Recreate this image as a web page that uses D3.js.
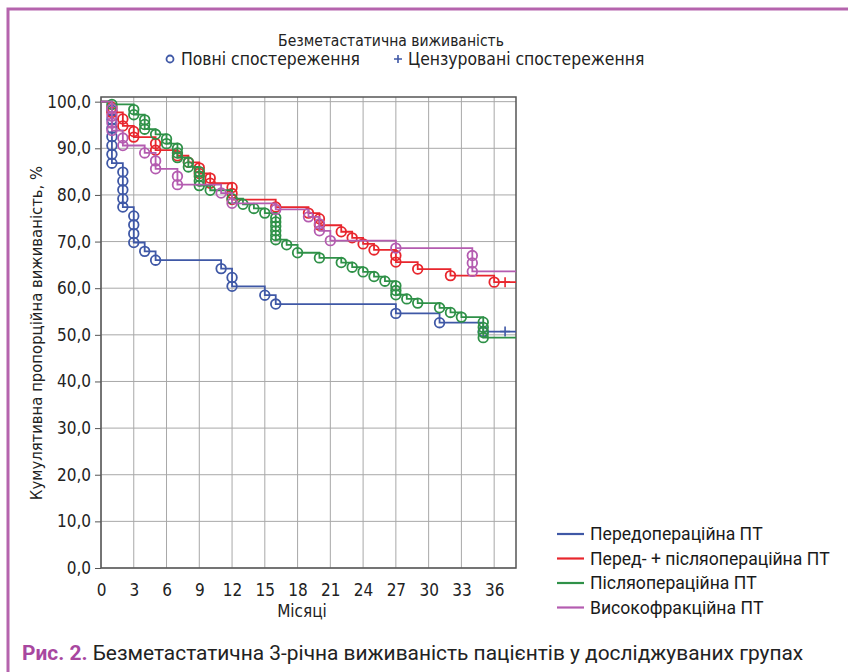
<!DOCTYPE html>
<html>
<head>
<meta charset="utf-8">
<script src="https://cdn.jsdelivr.net/npm/d3@7"></script>
<style>
  body { margin: 0; background: #fff; }
  svg { display: block; }
  .cond { font-family: 'DejaVu Sans Condensed', 'Liberation Sans Narrow', Roboto, sans-serif; }
  .rob { font-family: Roboto, 'Noto Sans', sans-serif; }
</style>
</head>
<body>
<div id="chart"></div>
<script>
// tick labels
const monthTicks = [0, 3, 6, 9, 12, 15, 18, 21, 24, 27, 30, 33, 36];
const survTicks = [0, 10, 20, 30, 40, 50, 60, 70, 80, 90, 100];

// groups
const groups = ['Передопераційна ПТ', 'Перед- + післяопераційна ПТ', 'Післяопераційна ПТ', 'Високофракційна ПТ'];
const colors = ['#3f58a6', '#e8262d', '#2f9148', '#b45cb0'];

// events: month and survival after each event (%)
const preopTime = [1, 1, 1, 1, 1, 1, 1, 2, 2, 2, 2, 2, 3, 3, 3, 3, 4, 5, 11, 12, 12, 15, 16, 27, 31, 35];
const preopSurv = [98.1, 96.2, 94.3, 92.5, 90.6, 88.7, 86.8, 84.9, 83.0, 81.1, 79.2, 77.4, 75.5, 73.6, 71.7, 69.8, 67.9, 66.0, 64.2, 62.3, 60.4, 58.5, 56.6, 54.6, 52.6, 50.7];
const preopCens = [37];

const combTime = [1, 1, 2, 2, 3, 3, 5, 5, 7, 8, 9, 9, 10, 10, 12, 12, 12, 16, 19, 20, 20, 22, 23, 24, 25, 27, 27, 29, 32, 36];
const combSurv = [98.8, 97.7, 96.3, 94.8, 93.6, 92.4, 91.0, 89.6, 88.4, 87.0, 85.8, 84.6, 83.6, 82.5, 81.6, 80.3, 79.0, 77.4, 76.1, 74.9, 73.5, 72.1, 70.8, 69.5, 68.2, 67.0, 65.6, 64.1, 62.7, 61.3];
const combCens = [37];

const postopTime = [1, 3, 3, 4, 4, 4, 5, 6, 6, 7, 7, 7, 8, 8, 9, 9, 9, 9, 10, 12, 13, 14, 15, 16, 16, 16, 16, 16, 16, 17, 18, 20, 22, 23, 24, 25, 26, 27, 27, 27, 28, 29, 31, 32, 33, 35, 35, 35, 35];
const postopSurv = [99.4, 98.3, 97.2, 96.1, 95.1, 94.1, 93.0, 92.0, 91.0, 90.0, 89.0, 88.0, 87.0, 86.0, 85.0, 84.0, 83.0, 82.0, 81.0, 79.2, 78.0, 77.1, 76.1, 75.1, 74.2, 73.3, 72.3, 71.3, 70.4, 69.3, 67.6, 66.5, 65.5, 64.5, 63.5, 62.5, 61.5, 60.5, 59.5, 58.6, 57.7, 56.8, 55.8, 54.8, 53.8, 52.7, 51.6, 50.5, 49.4];
const postopCens = [];

const hypoTime = [1, 1, 1, 1, 2, 2, 4, 5, 5, 7, 7, 11, 12, 16, 19, 20, 20, 21, 27, 34, 34, 34];
const hypoSurv = [98.5, 96.9, 95.4, 93.8, 92.2, 90.6, 89.0, 87.3, 85.6, 84.0, 82.2, 80.4, 78.2, 76.9, 75.3, 73.8, 72.3, 70.2, 68.6, 67.0, 65.4, 63.6];
const hypoCens = [];

const series = [
  { t: preopTime, s: preopSurv, c: preopCens },
  { t: combTime, s: combSurv, c: combCens },
  { t: postopTime, s: postopSurv, c: postopCens },
  { t: hypoTime, s: hypoSurv, c: hypoCens }
];

const W = 848, H = 672;
const plot = { left: 101, right: 516, top: 97, bottom: 568 };

const svg = d3.select('#chart').append('svg')
  .attr('width', W)
  .attr('height', H);

// magazine frame
svg.append('path')
  .attr('d', `M8,${H} L8,9 L${W},9`)
  .attr('fill', 'none')
  .attr('stroke', '#b564ad')
  .attr('stroke-width', 3);

const x = d3.scaleLinear().domain([0, 38]).range([plot.left, plot.right]);
const y = d3.scaleLinear().domain([0, 101]).range([plot.bottom, plot.top]);

// grid
svg.append('g')
  .selectAll('line')
  .data(monthTicks)
  .enter().append('line')
  .attr('x1', d => x(d)).attr('x2', d => x(d))
  .attr('y1', plot.top).attr('y2', plot.bottom)
  .attr('stroke', '#a8a8a8').attr('stroke-width', 1);

svg.append('g')
  .selectAll('line')
  .data(survTicks)
  .enter().append('line')
  .attr('x1', plot.left).attr('x2', plot.right)
  .attr('y1', d => y(d)).attr('y2', d => y(d))
  .attr('stroke', '#a8a8a8').attr('stroke-width', 1);

// axes
const fmt = d => d.toFixed(1).replace('.', ',');
const yAxis = svg.append('g')
  .attr('transform', `translate(${plot.left},0)`)
  .call(d3.axisLeft(y).tickValues(survTicks).tickFormat(fmt).tickSize(6).tickPadding(4));
yAxis.select('.domain').remove();

const xAxis = svg.append('g')
  .attr('transform', `translate(0,${plot.bottom})`)
  .call(d3.axisBottom(x).tickValues(monthTicks).tickFormat(d => d).tickSize(0).tickPadding(16));
xAxis.select('.domain').remove();

svg.selectAll('.tick text')
  .attr('class', 'cond')
  .attr('font-size', 17)
  .attr('fill', '#222');
svg.selectAll('.tick line').attr('stroke', '#555');

svg.append('rect')
  .attr('x', plot.left).attr('y', plot.top)
  .attr('width', plot.right - plot.left).attr('height', plot.bottom - plot.top)
  .attr('fill', 'none').attr('stroke', '#555').attr('stroke-width', 1.5);

// curves
const line = d3.line()
  .x(d => x(d[0]))
  .y(d => y(d[1]))
  .curve(d3.curveStepAfter);

function survAt(sr, tm) {
  let v = 100;
  sr.t.forEach((tt, i) => { if (tt <= tm) v = sr.s[i]; });
  return v;
}

series.forEach((sr, k) => {
  const pts = [[0, 100]].concat(sr.t.map((tt, i) => [tt, sr.s[i]]));
  pts.push([38, sr.s[sr.s.length - 1]]);
  const g = svg.append('g');
  g.append('path')
    .attr('d', line(pts))
    .attr('fill', 'none')
    .attr('stroke', colors[k])
    .attr('stroke-width', 1.8);
  g.selectAll('circle')
    .data(sr.t.map((tt, i) => [tt, sr.s[i]]))
    .enter().append('circle')
    .attr('cx', d => x(d[0]))
    .attr('cy', d => y(d[1]))
    .attr('r', 4.8)
    .attr('fill', 'none')
    .attr('stroke', colors[k])
    .attr('stroke-width', 1.8);
  g.selectAll('.cens')
    .data(sr.c)
    .enter().append('path')
    .attr('class', 'cens')
    .attr('d', d => {
      const cx = x(d), cy = y(survAt(sr, d));
      return `M${cx},${cy - 5}V${cy + 5}M${cx - 5},${cy}H${cx + 5}`;
    })
    .attr('stroke', colors[k])
    .attr('stroke-width', 1.6);
});

// titles
svg.append('text')
  .attr('class', 'cond')
  .attr('x', 391).attr('y', 46)
  .attr('text-anchor', 'middle')
  .attr('font-size', 15.5)
  .attr('fill', '#222')
  .text('Безметастатична виживаність');

svg.append('circle')
  .attr('cx', 170).attr('cy', 59).attr('r', 3.5)
  .attr('fill', 'none').attr('stroke', '#3f58a6').attr('stroke-width', 1.8);
svg.append('text')
  .attr('class', 'cond')
  .attr('x', 181).attr('y', 65)
  .attr('font-size', 17.4)
  .attr('fill', '#222')
  .text('Повні спостереження');
svg.append('path')
  .attr('d', 'M398,55V63M394,59H402')
  .attr('stroke', '#3f58a6').attr('stroke-width', 1.6);
svg.append('text')
  .attr('class', 'cond')
  .attr('x', 408).attr('y', 65)
  .attr('font-size', 17.4)
  .attr('fill', '#222')
  .text('Цензуровані спостереження');

svg.append('text')
  .attr('class', 'cond')
  .attr('x', 302).attr('y', 617)
  .attr('text-anchor', 'middle')
  .attr('font-size', 17)
  .attr('fill', '#222')
  .text('Місяці');

svg.append('text')
  .attr('class', 'cond')
  .attr('transform', 'translate(42,333) rotate(-90)')
  .attr('text-anchor', 'middle')
  .attr('font-size', 16.5)
  .attr('fill', '#222')
  .text('Кумулятивна пропорційна виживаність, %');

// legend
const leg = svg.append('g').attr('class', 'rob');
groups.forEach((name, i) => {
  const ly = 534 + i * 24.5;
  leg.append('line')
    .attr('x1', 557).attr('x2', 584)
    .attr('y1', ly).attr('y2', ly)
    .attr('stroke', colors[i]).attr('stroke-width', 2.2);
  leg.append('text')
    .attr('x', 590).attr('y', ly + 6)
    .attr('font-size', 17.6)
    .attr('fill', '#1a1a1a')
    .text(name);
});

// caption
const cap = svg.append('text')
  .attr('class', 'rob')
  .attr('x', 22).attr('y', 660)
  .attr('font-size', 20.9)
  .attr('fill', '#222');
cap.append('tspan')
  .attr('font-weight', 'bold')
  .attr('fill', '#a8479f')
  .text('Рис. 2.');
cap.append('tspan')
  .text(' Безметастатична 3-річна виживаність пацієнтів у досліджуваних групах');
</script>
</body>
</html>
